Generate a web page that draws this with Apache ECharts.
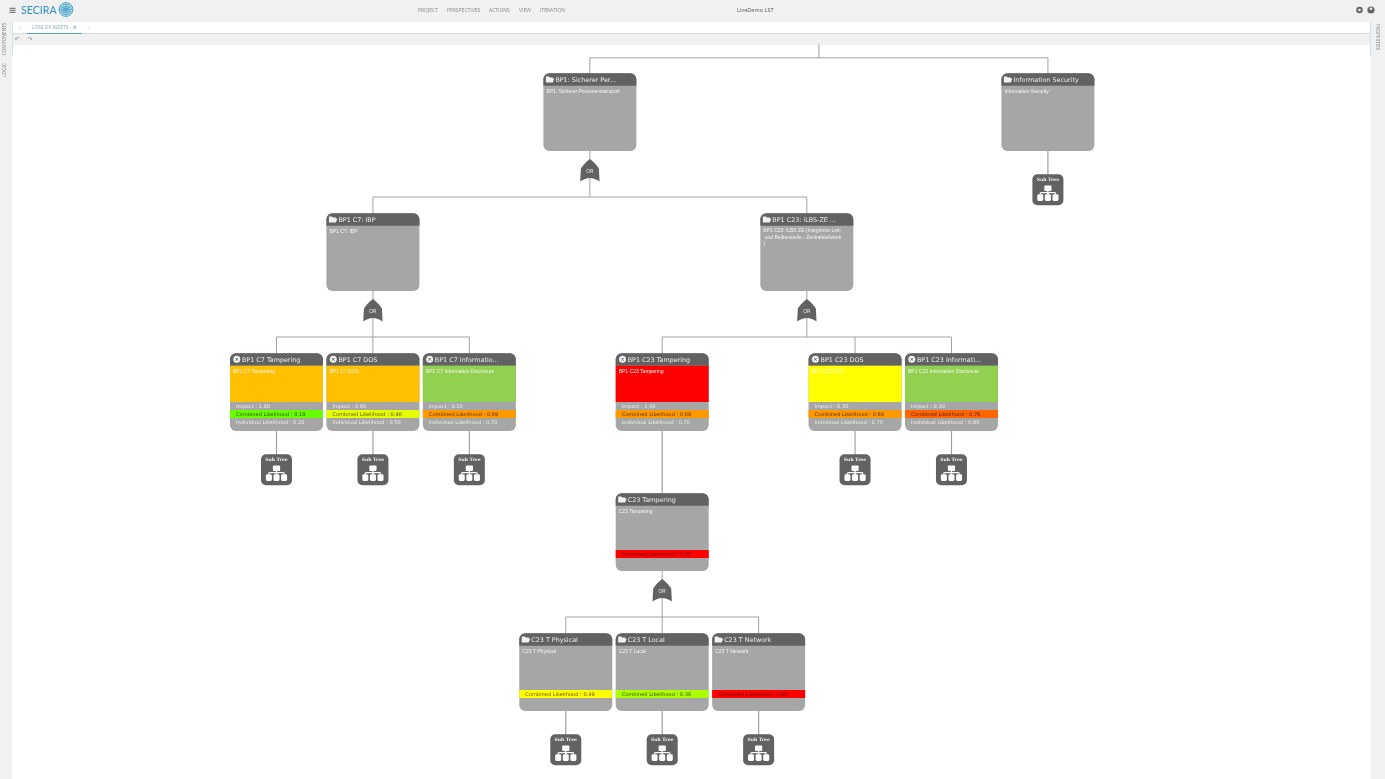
<!DOCTYPE html>
<html><head><meta charset="utf-8"><title>SECIRA</title>
<style>html,body{margin:0;padding:0;background:#fff;overflow:hidden}#c{width:1385px;height:779px}</style>
<script src="https://cdn.jsdelivr.net/npm/echarts@6/dist/echarts.min.js"></script>
</head><body><div id="c"></div>
<script>
// ---------- data: the attack tree ----------
const nodeTitles = ["BP1: Sicherer Per...","BP1 C7: IBP","BP1 C7 Tampering","BP1 C7 DOS","BP1 C7 Informatio...","BP1 C23: iLBS-ZE ...","BP1 C23 Tampering","C23 Tampering","C23 T Physical","C23 T Local","C23 T Network","BP1 C23 DOS","BP1 C23 Informati...","Information Security"];
const nodeDescriptions = ["BP1: Sicherer Personentransport","BP1 C7: IBP","BP1 C7 Tampering","BP1 C7 DOS","BP1 C7 Information Disclosure","BP1 C23: iLBS ZE (Integrierte Leit-\n und Bedienstelle - Zentralstellwerk\n)","BP1 C23 Tampering","C23 Tampering","C23 T Physical","C23 T Local","C23 T Network","BP1 C23 DOS","BP1 C23 Information Disclosure","Information Security"];
const nodeParents = [-1,0,1,1,1,0,5,6,7,7,7,5,5,-1];
const nodeImpact = [null,null,1.00,0.90,0.20,null,1.00,null,null,null,null,0.30,0.30,null];
const nodeCombined = [null,null,0.19,0.46,0.69,null,0.69,0.95,0.49,0.36,0.95,0.69,0.76,null];
const nodeIndividual = [null,null,0.20,0.50,0.70,null,0.70,null,null,null,null,0.70,0.80,null];
const nodeRisk = [null,null,"medium","medium","low",null,"high",null,null,null,null,"moderate","low",null];
const navLabels = ["PROJECT","PERSPECTIVES","ACTIONS","VIEW","ITERATION"];

// ---------- styles ----------
const riskColors = {low:"#92d050",moderate:"#ffff00",medium:"#ffc000",high:"#ff0000"};
const likelihoodHues = {0.19:96,0.36:80,0.46:66,0.49:60,0.69:36,0.76:24,0.95:0};
const likelihoodColor = v => "hsl(" + likelihoodHues[v] + ",100%,50%)";
const DARK="#626262", GREY="#a6a6a6", LINE="#a2a2a2";
const CARD_W=93, CARD_H=77.7, HEAD_H=12.4, BAR_Y=56.7, BAR_H=8, BUS=123.7, SUB_Y=101, SUB=31, TY=0.7;

// ---------- tidy layout from the tree structure ----------
const children = nodeTitles.map((_,i)=>nodeParents.map((p,j)=>p===i?j:-1).filter(j=>j>=0));
const roots = nodeParents.map((p,j)=>p===-1?j:-1).filter(j=>j>=0);
const slots=[], depths=[]; let nextSlot=0;
(function place(list,d){ list.forEach(i=>{ depths[i]=d;
  if(children[i].length){ place(children[i],d+1); const k=children[i]; slots[i]=(slots[k[0]]+slots[k[k.length-1]])/2; }
  else slots[i]=nextSlot++; }); })(roots,0);
const rows = nodeTitles.map((_,i)=>[slots[i],depths[i],i]);

// ---------- helpers ----------
const T=(text,x,y,size,fill,o)=>({type:'text',style:{text,x,y,fill,font:(o&&o.weight||'normal')+' '+size+'px '+(o&&o.family||'"DejaVu Sans"'),align:o&&o.align||'left',verticalAlign:'middle',lineHeight:o&&o.lh||undefined}});
const R=(x,y,w,h,fill,r)=>({type:'rect',shape:{x,y,width:w,height:h,r:r||0},style:{fill}});
const L=(x1,y1,x2,y2,stroke,w)=>({type:'line',shape:{x1,y1,x2,y2},style:{stroke,lineWidth:w||1}});
const Q=(a,b,c,n=8)=>{const p=[];for(let i=0;i<=n;i++){const t=i/n;p.push([(1-t)*(1-t)*a[0]+2*t*(1-t)*b[0]+t*t*c[0],(1-t)*(1-t)*a[1]+2*t*(1-t)*b[1]+t*t*c[1]]);}return p;};

function gate(cx,y){
  const pts=[].concat(Q([cx,y],[cx+5,y+3.5],[cx+9,y+9.5]),[[cx+9.7,y+22.5]],Q([cx+9.7,y+22.5],[cx,y+15.5],[cx-9.7,y+22.5]),[[cx-9,y+9.5]],Q([cx-9,y+9.5],[cx-5,y+3.5],[cx,y]));
  return [{type:'polygon',shape:{points:pts},style:{fill:DARK}},T("OR",cx,y+12.2,4.8,"#eeeeee",{align:'center',family:'"Liberation Sans"'})];
}
function subTree(cx,y){
  const w=SUB,x=cx-w/2, out=[R(x,y,w,w,DARK,5),T("Sub Tree",cx,y+5.6,4.5,"#f2f2f2",{align:'center',weight:'bold',family:'"DejaVu Serif"'})];
  out.push(R(cx-3.6,y+11.3,7.2,5.4,"#fff",1));
  out.push(L(cx,y+16.5,cx,y+20,"#fff",1.2));
  out.push(L(cx-7.3,y+18.3,cx+7.3,y+18.3,"#fff",1.2));
  [-7.6,0,7.6].forEach(d=>{out.push(L(cx+d,y+18.3,cx+d,y+20,"#fff",1.2));out.push(R(cx+d-3,y+20,6,6.6,"#fff",1.4));});
  return out;
}
function folder(x,y){
  return {type:'polygon',shape:{points:[[x,y+1],[x+3,y+1],[x+4,y+2],[x+7,y+2],[x+7,y+3],[x+8.5,y+3],[x+7,y+7],[x,y+7]]},style:{fill:"#f0f0f0"}};
}
function closeIcon(cx,cy){
  return [{type:'circle',shape:{cx,cy,r:3.5},style:{fill:"#f2f2f2"}},L(cx-1.3,cy-1.3,cx+1.3,cy+1.3,DARK,.9),L(cx+1.3,cy-1.3,cx-1.3,cy+1.3,DARK,.9)];
}

function renderConnectors(params,api){
  const i=api.value(2), p=api.coord([api.value(0),api.value(1)]), cx=p[0], top=p[1], k=children[i], out=[];
  if(k.length===0){ out.push(L(cx,top+CARD_H,cx,top+SUB_Y+3,LINE,1.2)); }
  else if(k.length===1){ const c=api.coord([slots[k[0]],depths[k[0]]]); out.push(L(cx,top+CARD_H,c[0],c[1],LINE,1.2)); }
  else {
    const a=api.coord([slots[k[0]],depths[k[0]]]), b=api.coord([slots[k[k.length-1]],depths[k[0]]]);
    out.push(L(cx,top+CARD_H,cx,top+BUS,LINE,1));
    out.push(L(a[0],top+BUS,b[0],top+BUS,LINE,1));
    k.forEach(j=>{const c=api.coord([slots[j],depths[j]]); out.push(L(c[0],top+BUS,c[0],c[1],LINE,1));});
  }
  if(nodeParents[i]===-1){ // drop from the tree's root bus
    out.push(L(cx,top-15.5,cx,top,LINE,1));
    if(i===roots[0]){
      const e=api.coord([slots[roots[roots.length-1]],depths[roots[0]]]), mid=(cx+e[0])/2;
      out.push(L(cx,top-15.5,e[0],top-15.5,LINE,1));
      out.push(L(mid,top-29,mid,top-15.5,LINE,1));
    }
  }
  return {type:'group',children:out};
}
function renderCard(params,api){
  const i=api.value(2), p=api.coord([api.value(0),api.value(1)]), cx=p[0], top=p[1], x=cx-CARD_W/2, out=[];
  const hasImpact=nodeImpact[i]!==null;
  out.push(R(x,top,CARD_W,CARD_H,GREY,6));
  out.push(R(x,top,CARD_W,HEAD_H,DARK,[6,6,0,0]));
  if(hasImpact) out.push(R(x,top+HEAD_H,CARD_W,BAR_Y-8-HEAD_H,riskColors[nodeRisk[i]]));
  if(hasImpact) out.push.apply(out,closeIcon(x+6.8,top+6));
  else out.push(folder(x+2.5,top+2.2));
  out.push(T(nodeTitles[i],x+12,top+6.1+TY,6.4,"#eeeeee"));
  out.push(T(nodeDescriptions[i],x+3,top+(nodeDescriptions[i].indexOf("\n")>=0?23.5:17.4)+TY,5,"#f4f4f4",{family:'"Liberation Sans"',lh:6.5}));
  if(nodeCombined[i]!==null){
    out.push(R(x,top+BAR_Y,CARD_W,BAR_H,likelihoodColor(nodeCombined[i])));
    out.push(T("Combined Likelihood : "+nodeCombined[i].toFixed(2),x+6,top+BAR_Y+4+TY,5.1,"rgba(30,0,0,.72)"));
  }
  if(hasImpact){
    out.push(T("Impact : "+nodeImpact[i].toFixed(2),x+6,top+BAR_Y-4+TY,5.1,"#eeeeee"));
    out.push(T("Individual Likelihood : "+nodeIndividual[i].toFixed(2),x+6,top+BAR_Y+12+TY,5.1,"#eeeeee"));
  }
  if(children[i].length>1) out.push.apply(out,gate(cx,top+85.7));
  if(children[i].length===0) out.push.apply(out,subTree(cx,top+SUB_Y));
  return {type:'group',children:out};
}

// ---------- application chrome ----------
const chrome=[];
const gfx=(o)=>chrome.push(o);
const gT=(text,x,y,size,fill,o)=>{o=o||{};gfx({type:'text',x,y,rotation:o.rot||0,style:{text,fill,font:(o.weight||'normal')+' '+size+'px "'+(o.family||'Open Sans')+'"',align:o.align||'left',verticalAlign:'middle'}});};
const gR=(x,y,w,h,fill)=>gfx({type:'rect',shape:{x,y,width:w,height:h},style:{fill}});
gR(0,0,1385,22,"#f1f1f1"); gR(13,33,1357,1,"#dcdcdc"); gR(13,34,1357,11,"#f1f1f1");
gR(0,22,12,757,"#f1f1f1"); gR(1371,22,14,757,"#f1f1f1");
gR(12,22,1,34,"#cfe3ee"); gR(1370,22,1,34,"#cfe3ee"); gR(27,33,55,1,"#5aa5cf");
[7.8,9.8,11.8].forEach(y=>gR(9.5,y,6,1,"#666"));
gT("SECIRA",21,10.5,10.6,"#2f8fbb",{family:'Lato'});
// logo globe
for(let r=1.5;r<=7;r+=1.8) gfx({type:'circle',shape:{cx:66,cy:9.5,r},style:{fill:'none',stroke:"#4aa5cc",lineWidth:1}});
for(let a=0;a<12;a++) gfx({type:'line',shape:{x1:66,y1:9.5,x2:66+7*Math.cos(a*Math.PI/6),y2:9.5+7*Math.sin(a*Math.PI/6)},style:{stroke:"#4aa5cc",lineWidth:.8}});
const navX=[418,447,489,519,540];
navLabels.forEach((t,i)=>gT(t,navX[i],10.3,5,"#8a8a8a"));
gT("LiveDemo LST",737,10.3,5.6,"#555");
gfx({type:'circle',shape:{cx:1359.5,cy:10,r:2.3},style:{fill:'none',stroke:"#666",lineWidth:2}});
gfx({type:'circle',shape:{cx:1371,cy:10,r:3.6},style:{fill:"#666"}});
gfx({type:'circle',shape:{cx:1371,cy:8.8,r:1.3},style:{fill:"#f1f1f1"}});
gT("‹",20,27.6,5,"#aaa",{align:'center'}); gT("›",89,27.6,5,"#aaa",{align:'center'});
gT("LOSS OF ASSETS",32,27.8,4.8,"#7fa9c2");
gT("✕",72.5,27.5,5,"#3d8fc0",{family:'DejaVu Sans'});
gT("↶",17,39.5,6,"#888",{family:'DejaVu Sans',align:'center'}); gT("↷",30,39.5,6,"#888",{family:'DejaVu Sans',align:'center'});
gT("COMPONENTS",5,39,4.8,"#777",{rot:Math.PI/2,align:'center'});
gT("LOGIC",5,70,4.8,"#777",{rot:Math.PI/2,align:'center'});
gT("PROPERTIES",1377.5,37,4.6,"#777",{rot:-Math.PI/2,align:'center'});

const chart=echarts.init(document.getElementById('c'));
chart.setOption({
  animation:false, backgroundColor:'#fff',
  grid:{left:276.5,top:73.3,width:771.4,height:560,containLabel:false},
  xAxis:{type:'value',min:0,max:8,show:false},
  yAxis:{type:'value',min:0,max:4,inverse:true,show:false},
  graphic:{elements:chrome},
  tooltip:{show:false},
  series:[
    {type:'custom',name:'links',z:2,clip:false,silent:true,renderItem:renderConnectors,data:rows,encode:{x:0,y:1}},
    {type:'custom',name:'nodes',z:3,clip:false,silent:true,renderItem:renderCard,data:rows,encode:{x:0,y:1}}
  ]
});
</script></body></html>
